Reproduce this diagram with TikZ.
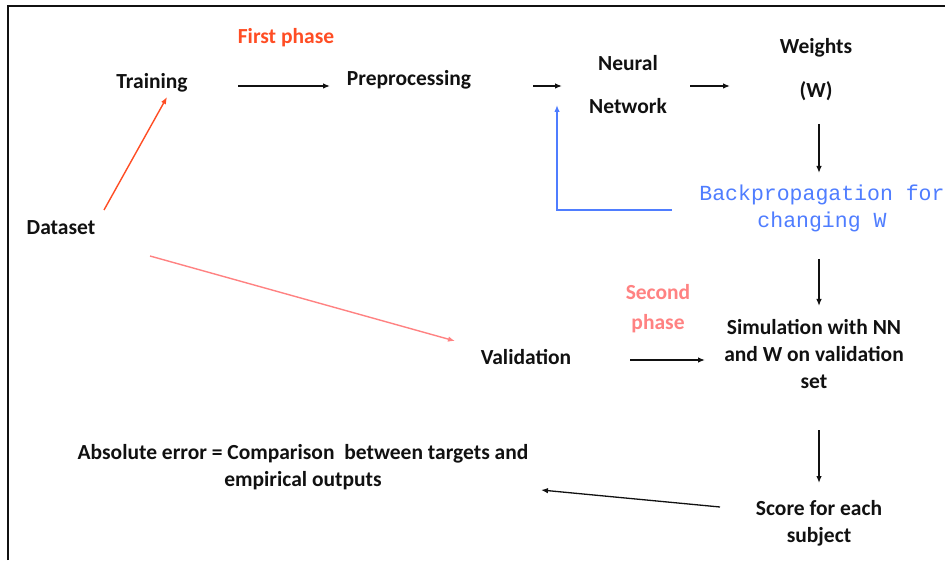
\documentclass[tikz,border=0pt]{standalone}
\usepackage{fontspec}
\setmainfont{Carlito}
\newfontfamily\codefont{Liberation Mono}
\usetikzlibrary{arrows.meta}

\definecolor{txt}{HTML}{111111}
\definecolor{phaseone}{HTML}{FF4D24}
\definecolor{phasetwo}{HTML}{FF8282}
\definecolor{backblue}{HTML}{4F7DFF}

\tikzset{
  lbl/.style={inner sep=0pt, text=txt, font=\bfseries\fontsize{21.5}{27}\selectfont, align=center},
  codelbl/.style={inner sep=0pt, text=backblue, font=\codefont\fontsize{21.5}{27}\selectfont, align=center},
  arr/.style={-{Latex[length=7pt,width=5.5pt]}, line width=1.3pt, draw=txt},
  redarr/.style={-{Latex[length=7pt,width=5.5pt]}, line width=1.4pt, draw=phaseone},
  pinkarr/.style={-{Latex[length=7pt,width=5.5pt]}, line width=1.4pt, draw=phasetwo},
  bluearr/.style={-{Latex[length=7pt,width=5.5pt]}, line width=1.4pt, draw=backblue},
}

\begin{document}
\begin{tikzpicture}[x=1pt,y=1pt]
  \useasboundingbox (0,0) rectangle (945,560);
  \fill[white] (0,0) rectangle (945,560);

  % frame (top and left edges)
  \draw[line width=2.2pt, draw=txt] (8,0) -- (8,554) -- (945,554);

  % labels
  \node[lbl] (train) at (152,477) {Training};
  \node[lbl] (prep) at (409,480) {Preprocessing};
  \node[lbl, font=\bfseries\fontsize{21.5}{43}\selectfont] (nn) at (628,475.5) {Neural\\Network};
  \node[lbl, font=\bfseries\fontsize{21.5}{44}\selectfont] (wts) at (816,490) {Weights\\(W)};
  \node[codelbl] (bp) at (822,351.5) {Backpropagation for\\changing W};
  \node[lbl] (sim) at (814,206) {Simulation with NN\\and W on validation\\set};
  \node[lbl] (data) at (61,332) {Dataset};
  \node[lbl] (val) at (526,203) {Validation};
  \node[lbl, text=phasetwo, font=\bfseries\fontsize{21.5}{30}\selectfont] (second) at (658,251) {Second\\phase};
  \node[lbl, text=phaseone] (first) at (286,522) {First phase};
  \node[lbl] (score) at (819,36.5) {Score for each\\subject};
  \node[lbl] (abs) at (303,92.5) {Absolute error = Comparison \ between targets and\\empirical outputs};

  % first phase: training path
  \draw[redarr] ([shift={(43,18)}]data.center) -- ([shift={(15,-14)}]train.center);
  \draw[arr] ([shift={(86,-3)}]train.center) -- ([shift={(-79,-6)}]prep.center);
  \draw[arr] ([shift={(124,-6)}]prep.center) -- ([shift={(-66,-1.5)}]nn.center);
  \draw[arr] ([shift={(62,-1.5)}]nn.center) -- ([shift={(-86,-16)}]wts.center);
  \draw[arr] ([shift={(3,-54)}]wts.center) -- ([shift={(-3,35.5)}]bp.center);
  \draw[bluearr] ([shift={(-150,-1.5)}]bp.center) -| ([shift={(-71,-20.5)}]nn.center);

  % second phase: validation path
  \draw[arr] ([shift={(-3,-50.5)}]bp.center) -- ([shift={(5,48)}]sim.center);
  \draw[pinkarr] ([shift={(89,-28)}]data.center) -- ([shift={(-71,16)}]val.center);
  \draw[arr] ([shift={(104,-3)}]val.center) -- ([shift={(-109,-6)}]sim.center);
  \draw[arr] ([shift={(5,-76)}]sim.center) -- ([shift={(0,40.5)}]score.center);
  \draw[arr] ([shift={(-99,16.5)}]score.center) -- ([shift={(238,-22.5)}]abs.center);
\end{tikzpicture}
\end{document}
